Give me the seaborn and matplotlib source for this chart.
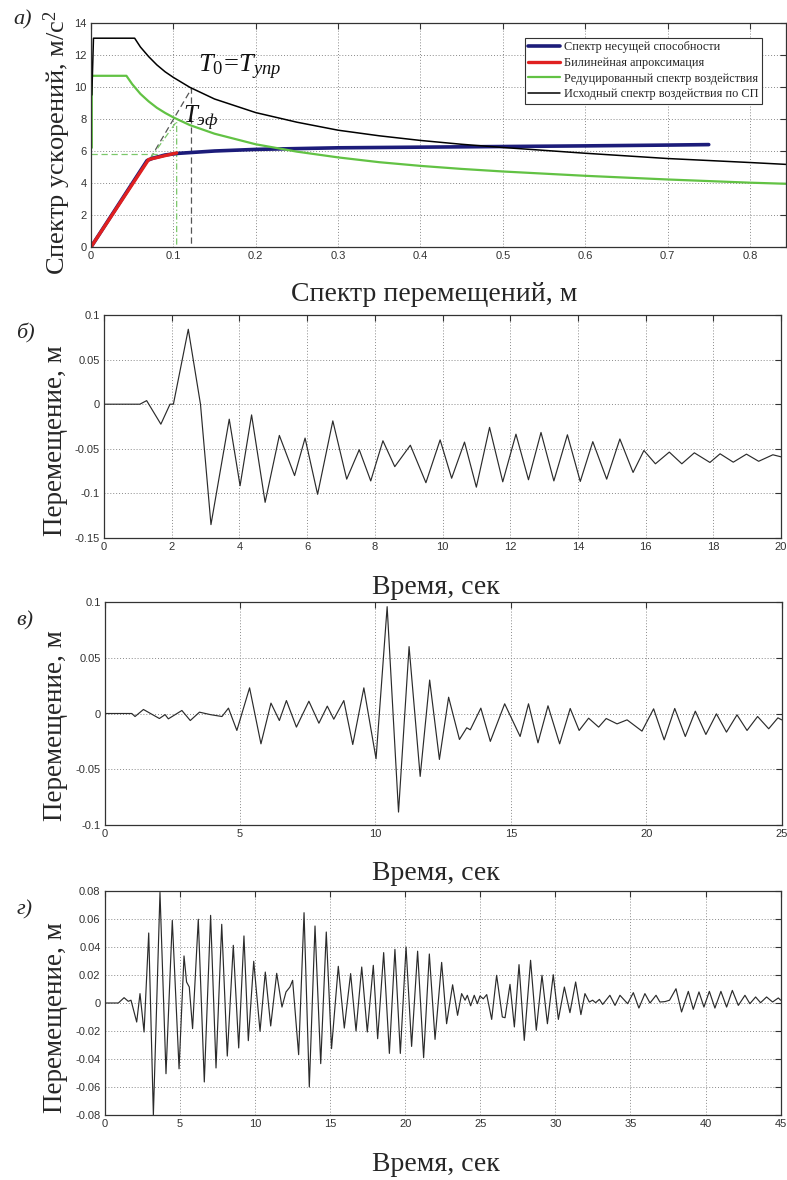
import numpy as np
import matplotlib
matplotlib.use("Agg")
import matplotlib.pyplot as plt
import seaborn as sns

# ---------------------------------------------------------------------------
# Data
# ---------------------------------------------------------------------------

# panel a) -- spectra in ADRS format (Sd, m ; Sa, m/s^2)
capacity_sd = [0.0, 0.068, 0.075, 0.09, 0.105, 0.15, 0.2, 0.3, 0.4, 0.5, 0.6, 0.7, 0.75]
capacity_sa = [0.0, 5.40, 5.55, 5.75, 5.85, 6.0, 6.1, 6.2, 6.24, 6.28, 6.32, 6.37, 6.4]

bilinear_sd = [0.0, 0.070, 0.104]
bilinear_sa = [0.0, 5.47, 5.88]

reduced_sd = [0.001, 0.001, 0.043, 0.05, 0.06, 0.07, 0.08, 0.09, 0.1, 0.12, 0.15,
              0.2, 0.25, 0.3, 0.35, 0.4, 0.45, 0.5, 0.6, 0.7, 0.8, 0.845]
reduced_sa = [6.2, 10.7, 10.7, 10.18, 9.57, 9.1, 8.7, 8.38, 8.1, 7.62, 7.08,
              6.42, 5.96, 5.6, 5.3, 5.07, 4.88, 4.72, 4.45, 4.22, 4.02, 3.95]

original_sd = [0.001, 0.003, 0.053, 0.06, 0.07, 0.08, 0.09, 0.1, 0.12, 0.15, 0.2,
               0.25, 0.3, 0.35, 0.4, 0.45, 0.5, 0.6, 0.7, 0.8, 0.845]
original_sa = [9.5, 13.05, 13.05, 12.5, 11.9, 11.38, 10.95, 10.6, 9.98, 9.25, 8.4,
               7.8, 7.3, 6.95, 6.66, 6.42, 6.22, 5.86, 5.53, 5.28, 5.16]

# construction lines (T0 = Tупр and Tэф)
t0_sd = [0.072, 0.122, 0.122]
t0_sa = [5.53, 9.9, 0.0]
teff_sd = [0.072, 0.104, 0.104]
teff_sa = [5.53, 7.85, 0.0]
ay_sd = [0.0, 0.104]
ay_sa = [5.84, 5.84]

legend_labels = ["Спектр несущей способности", "Билинейная апроксимация",
                 "Редуцированный спектр воздействия",
                 "Исходный спектр воздействия по СП"]

# panel б) -- displacement history, extremes (s ; m)
b_t = [0.0, 1.06, 1.26, 1.68, 1.95, 2.05, 2.49, 2.85, 3.16, 3.70, 4.02, 4.36, 4.76,
       5.18, 5.63, 5.94, 6.31, 6.76, 7.17, 7.54, 7.88, 8.24, 8.59, 9.05, 9.51,
       9.93, 10.27, 10.65, 11.0, 11.39, 11.78, 12.17, 12.54, 12.91, 13.29, 13.69,
       14.07, 14.44, 14.85, 15.24, 15.63, 15.95, 16.29, 16.70, 17.07, 17.44,
       17.90, 18.20, 18.59, 18.98, 19.34, 19.76, 20.0]
b_u = [0.0, 0.0, 0.004, -0.0224, 0.0, 0.0, 0.084, 0.0, -0.135, -0.0168, -0.0914,
       -0.012, -0.110, -0.035, -0.080, -0.038, -0.101, -0.0187, -0.084, -0.051,
       -0.086, -0.041, -0.070, -0.046, -0.088, -0.040, -0.083, -0.0425, -0.093,
       -0.026, -0.087, -0.0336, -0.0847, -0.0317, -0.086, -0.0343, -0.0866,
       -0.042, -0.084, -0.039, -0.0765, -0.0519, -0.0668, -0.0537, -0.0668,
       -0.0545, -0.0653, -0.0556, -0.065, -0.056, -0.064, -0.0567, -0.059]

# panel в)
c_t = [0.0, 1.0, 1.12, 1.43, 2.02, 2.23, 2.35, 2.85, 3.16, 3.50, 3.9, 4.33, 4.57,
       4.88, 5.35, 5.77, 6.14, 6.45, 6.71, 7.08, 7.54, 7.91, 8.22, 8.46, 8.83,
       9.16, 9.57, 10.02, 10.43, 10.85, 11.24, 11.65, 12.0, 12.36, 12.70, 13.10,
       13.37, 13.5, 13.89, 14.24, 14.77, 15.34, 15.65, 16.0, 16.37, 16.80, 17.19,
       17.52, 17.87, 18.24, 18.52, 18.92, 19.29, 19.84, 20.27, 20.66, 21.05,
       21.44, 21.81, 22.20, 22.59, 22.96, 23.35, 23.72, 24.11, 24.52, 24.86, 25.0]
c_u = [0.0, 0.0, -0.0027, 0.0036, -0.0045, -0.001, -0.0048, 0.0027, -0.0063,
       0.0012, -0.001, -0.0027, 0.0048, -0.0152, 0.023, -0.0272, 0.0093, -0.0063,
       0.0116, -0.0122, 0.011, -0.0087, 0.0066, -0.0051, 0.0116, -0.0278, 0.023,
       -0.0406, 0.0958, -0.0884, 0.060, -0.0564, 0.030, -0.0412, 0.0146, -0.0233,
       -0.0128, -0.0146, 0.0048, -0.025, 0.0087, -0.0206, 0.0087, -0.0263, 0.0069,
       -0.0272, 0.0045, -0.0152, -0.0042, -0.0122, -0.0045, -0.0093, -0.0057,
       -0.0158, 0.0042, -0.0236, 0.0045, -0.0206, 0.0021, -0.0188, -0.0003,
       -0.0167, -0.0012, -0.0152, -0.0027, -0.0137, -0.0039, -0.0057]

# panel г)
d_t = [0.0, 0.91, 1.29, 1.57, 1.75, 2.13, 2.35, 2.62, 2.93, 3.24, 3.68, 4.08, 4.50,
       4.95, 5.28, 5.45, 5.63, 5.85, 6.23, 6.63, 7.05, 7.41, 7.79, 8.16, 8.56,
       8.92, 9.27, 9.56, 9.92, 10.34, 10.69, 11.05, 11.45, 11.80, 12.07, 12.33,
       12.51, 12.91, 13.27, 13.62, 14.0, 14.38, 14.75, 15.1, 15.55, 15.95, 16.37,
       16.73, 17.11, 17.48, 17.88, 18.17, 18.57, 18.95, 19.32, 19.68, 20.06,
       20.43, 20.83, 21.23, 21.61, 21.99, 22.43, 22.76, 23.16, 23.49, 23.76,
       23.99, 24.14, 24.36, 24.6, 24.81, 24.98, 25.2, 25.43, 25.76, 26.09, 26.47,
       26.65, 26.98, 27.27, 27.58, 27.93, 28.35, 28.73, 29.11, 29.47, 29.86,
       30.2, 30.6, 30.97, 31.35, 31.70, 31.97, 32.26, 32.48, 32.68, 32.93, 33.15,
       33.63, 33.97, 34.3, 34.81, 35.19, 35.56, 35.96, 36.3, 36.70, 36.96, 37.3,
       37.6, 38.03, 38.4, 38.85, 39.18, 39.56, 39.89, 40.25, 40.62, 41.02, 41.40,
       41.78, 42.18, 42.62, 42.95, 43.33, 43.66, 44.06, 44.46, 44.84, 45.0]
d_u = [0.0, 0.0, 0.0038, 0.0012, 0.002, -0.0136, 0.0067, -0.0207, 0.050, -0.080,
       0.079, -0.0505, 0.059, -0.047, 0.0336, 0.015, 0.0114, -0.0183, 0.0598,
       -0.0564, 0.0626, -0.0464, 0.0562, -0.0379, 0.0412, -0.0321, 0.0479,
       -0.0269, 0.0298, -0.0202, 0.0221, -0.0164, 0.0212, -0.0029, 0.0079, 0.0114,
       0.0162, -0.0369, 0.0645, -0.060, 0.055, -0.0433, 0.0507, -0.0326, 0.0262,
       -0.0179, 0.021, -0.020, 0.0257, -0.0207, 0.0269, -0.0255, 0.036, -0.036,
       0.0383, -0.036, 0.040, -0.031, 0.037, -0.039, 0.035, -0.026, 0.029,
       -0.0148, 0.013, -0.0088, 0.0067, 0.002, 0.0055, -0.002, 0.0055, -0.0005,
       0.005, 0.003, 0.006, -0.0117, 0.0198, -0.010, -0.0105, 0.0133, -0.0171,
       0.0274, -0.0267, 0.0305, -0.0195, 0.0198, -0.0148, 0.0202, -0.0117, 0.0114,
       -0.0069, 0.015, -0.0083, 0.0067, 0.0007, 0.002, 0.0002, 0.0026, -0.001,
       0.0055, -0.0017, 0.0055, -0.0005, 0.0074, -0.0036, 0.0067, 0.0, 0.0055,
       0.0007, 0.001, 0.002, 0.0102, -0.0064, 0.0083, -0.0045, 0.0079, -0.0029,
       0.0083, -0.0036, 0.0083, -0.0029, 0.009, -0.0017, 0.0055, -0.0005, 0.0043,
       0.0002, 0.0043, 0.0007, 0.0036, 0.002]

# ticks
a_xticks = [0, 0.1, 0.2, 0.3, 0.4, 0.5, 0.6, 0.7, 0.8]
a_xticklabels = ["0", "0.1", "0.2", "0.3", "0.4", "0.5", "0.6", "0.7", "0.8"]
a_yticks = [0, 2, 4, 6, 8, 10, 12, 14]
b_xticks = [0, 2, 4, 6, 8, 10, 12, 14, 16, 18, 20]
b_yticks = [-0.15, -0.1, -0.05, 0, 0.05, 0.1]
b_yticklabels = ["-0.15", "-0.1", "-0.05", "0", "0.05", "0.1"]
c_xticks = [0, 5, 10, 15, 20, 25]
c_yticks = [-0.1, -0.05, 0, 0.05, 0.1]
c_yticklabels = ["-0.1", "-0.05", "0", "0.05", "0.1"]
d_xticks = [0, 5, 10, 15, 20, 25, 30, 35, 40, 45]
d_yticks = [-0.08, -0.06, -0.04, -0.02, 0, 0.02, 0.04, 0.06, 0.08]
d_yticklabels = ["-0.08", "-0.06", "-0.04", "-0.02", "0", "0.02", "0.04", "0.06", "0.08"]

# ---------------------------------------------------------------------------
# Style
# ---------------------------------------------------------------------------
sns.set_theme(style="white")
plt.rcParams.update({
    "font.family": ["Liberation Sans", "DejaVu Sans"],
    "mathtext.fontset": "custom",
    "mathtext.rm": "Liberation Serif",
    "mathtext.it": "Liberation Serif:italic",
    "mathtext.bf": "Liberation Serif:bold",
    "axes.edgecolor": "#333333",
    "axes.linewidth": 0.9,
    "xtick.direction": "in",
    "ytick.direction": "in",
    "xtick.top": True,
    "ytick.right": True,
    "xtick.major.size": 4,
    "ytick.major.size": 4,
    "xtick.major.width": 0.8,
    "ytick.major.width": 0.8,
    "xtick.color": "#333333",
    "ytick.color": "#333333",
    "xtick.labelsize": 8,
    "ytick.labelsize": 8,
    "xtick.major.pad": 3,
    "ytick.major.pad": 3,
})

W, H = 787, 1180
SERIF = ["Liberation Serif", "DejaVu Serif"]
fig = plt.figure(figsize=(W / 100, H / 100), dpi=100)
fig.patch.set_facecolor("white")


def px_axes(left, top, right, bottom):
    return fig.add_axes([left / W, 1 - bottom / H, (right - left) / W, (bottom - top) / H])


def fig_text(x, y, s, **kw):
    fig.text(x / W, 1 - y / H, s, **kw)


def grid(ax):
    ax.grid(True, color="#8a8a8a", linestyle=(0, (1, 2)), linewidth=0.7)
    ax.set_axisbelow(True)


def line(ax, x, y, **kw):
    sns.lineplot(x=x, y=y, ax=ax, estimator=None, sort=False, **kw)


# ---------------------------------------------------------------------------
# a) spectra
# ---------------------------------------------------------------------------
ax = px_axes(91, 23, 786, 247)
line(ax, t0_sd, t0_sa, color="#555555", lw=0.9, linestyle=(0, (5, 3)))
line(ax, teff_sd, teff_sa, color="#7bc86a", lw=0.9, linestyle=(0, (5, 2, 1, 2)))
line(ax, ay_sd, ay_sa, color="#7bc86a", lw=0.9, linestyle=(0, (5, 3)))
line(ax, capacity_sd, capacity_sa, color="#1c1c7a", lw=2.6, label=legend_labels[0])
line(ax, bilinear_sd, bilinear_sa, color="#e02020", lw=2.4, label=legend_labels[1])
line(ax, reduced_sd, reduced_sa, color="#62c244", lw=1.6, label=legend_labels[2])
line(ax, original_sd, original_sa, color="black", lw=1.1, label=legend_labels[3])
ax.set_xlim(0, 0.8438)
ax.set_ylim(0, 14)
ax.set_xticks(a_xticks, a_xticklabels)
ax.set_yticks(a_yticks)
grid(ax)
ax.set_xlabel("")
ax.set_ylabel("")
leg = ax.legend(loc="upper left", bbox_to_anchor=(0.624, 0.935), frameon=True,
                fancybox=False, framealpha=1, edgecolor="#333333",
                prop={"family": SERIF, "size": 8.8}, handlelength=2.6,
                handletextpad=0.3, borderpad=0.3, labelspacing=0.3,
                borderaxespad=0)
leg.get_frame().set_linewidth(0.8)

ax.text(0.130, 10.9, r"$T_{\mathit{0}}\!=\!T_{упр}$", fontsize=19, color="#111111")
ax.text(0.112, 7.75, r"$T_{эф}$", fontsize=18, color="#111111")

fig_text(23, 20, "а)", fontsize=16, family=SERIF, style="italic", ha="center", va="center")
fig_text(57, 143, "Спектр ускорений, м/с$^2$", fontsize=19, family=SERIF, rotation=90,
         ha="center", va="center")
fig_text(434, 301, "Спектр перемещений, м", fontsize=20, family=SERIF, ha="center",
         va="baseline")

# ---------------------------------------------------------------------------
# б), в), г) displacement histories
# ---------------------------------------------------------------------------
panels = [
    ("б)", (104, 315, 781, 538), b_t, b_u, (0, 20), (-0.15, 0.1), b_xticks,
     b_yticks, b_yticklabels, 333, 441, 594),
    ("в)", (104.7, 602, 781.7, 825), c_t, c_u, (0, 25), (-0.1, 0.1), c_xticks,
     c_yticks, c_yticklabels, 621, 726, 880),
    ("г)", (104.7, 891, 780.7, 1115), d_t, d_u, (0, 45), (-0.08, 0.08), d_xticks,
     d_yticks, d_yticklabels, 910, 1018, 1171),
]

for tag, box, t, u, xlim, ylim, xt, yt, ytl, tag_y, ylab_y, xlab_y in panels:
    ax = px_axes(*box)
    line(ax, t, u, color="#2b2b2b", lw=0.85)
    ax.set_xlim(*xlim)
    ax.set_ylim(*ylim)
    ax.set_xticks(xt)
    ax.set_yticks(yt, ytl)
    grid(ax)
    ax.set_xlabel("")
    ax.set_ylabel("")
    fig_text(25, tag_y, tag, fontsize=16, family=SERIF, style="italic", ha="center",
             va="center")
    fig_text(56, ylab_y, "Перемещение, м", fontsize=19.5, family=SERIF, rotation=90,
             ha="center", va="center")
    fig_text(436, xlab_y, "Время, сек", fontsize=20, family=SERIF, ha="center",
             va="baseline")

fig.savefig("out.png", dpi=100, facecolor="white")
